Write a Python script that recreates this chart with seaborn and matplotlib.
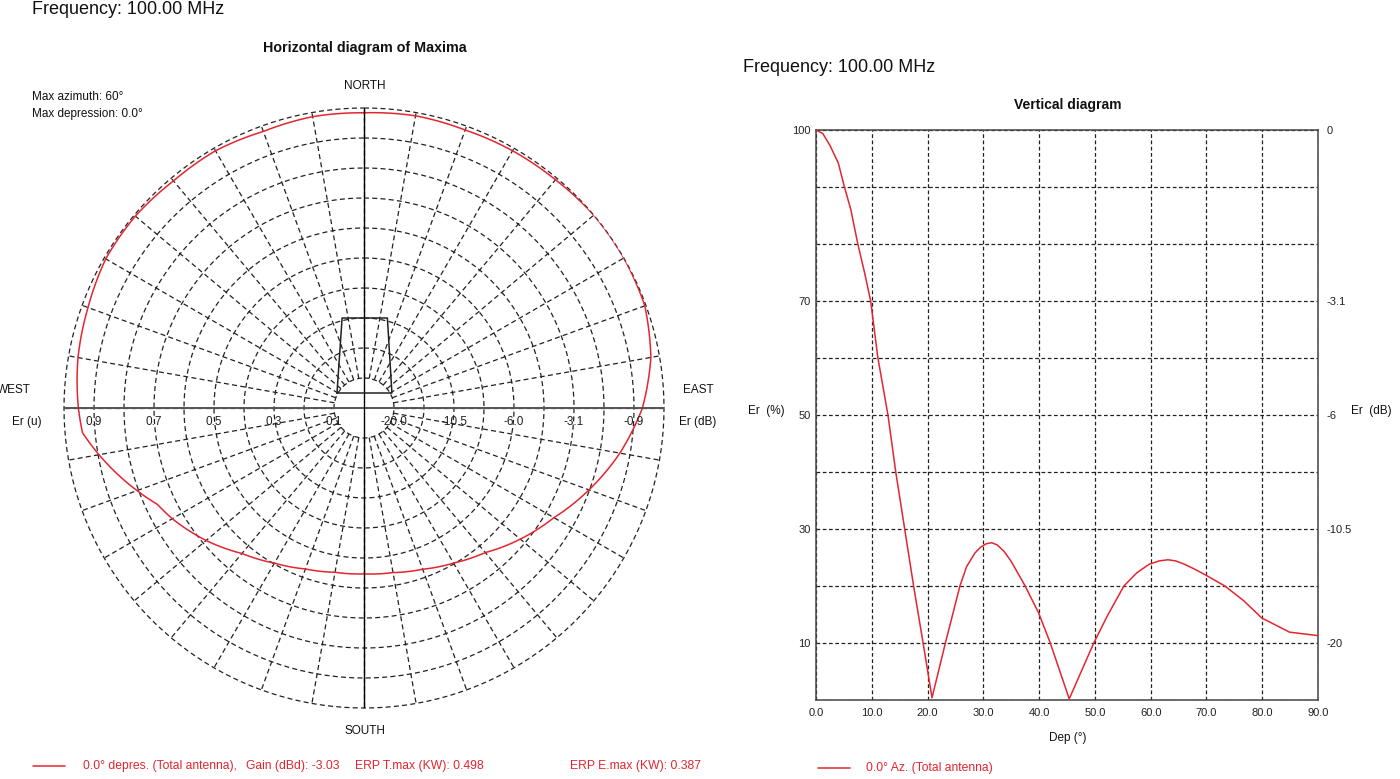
import numpy as np
import matplotlib
matplotlib.use("Agg")
import matplotlib.pyplot as plt
from matplotlib.lines import Line2D
import seaborn as sns

# horizontal diagram: relative field (0..1) read every 10 deg of azimuth
azimuth_deg = [0, 10, 20, 30, 40, 50, 60, 70, 80, 90, 100, 110, 120, 130, 140, 150, 160, 170,
               180, 190, 200, 210, 220, 230, 240, 245, 250, 260, 265, 270, 280, 290, 300, 310,
               320, 330, 340, 350, 360]
h_field = [0.984, 0.989, 0.986, 0.990, 0.993, 1.000, 1.000, 0.996, 0.971, 0.928, 0.866, 0.798,
           0.731, 0.680, 0.629, 0.597, 0.572, 0.557, 0.553, 0.556, 0.571, 0.597, 0.633, 0.687,
           0.738, 0.760, 0.805, 0.897, 0.942, 0.952, 0.968, 0.979, 0.994, 0.995, 0.988, 0.990,
           0.981, 0.986, 0.984]

# vertical diagram: Er (%) vs depression angle
depression_deg = [0.0, 1.2, 2.5, 4.0, 5.1, 6.25, 7.5, 8.7, 9.8, 11.1, 12.9, 14.3, 15.9, 17.5,
                  19.2, 20.8, 23.2, 25.8, 27.0, 28.5, 29.5, 30.5, 31.5, 32.5, 33.7, 35.0,
                  37.5, 39.9, 42.0, 45.4, 49.8, 52.2, 55.2, 57.5, 59.7, 61.5, 63.1, 64.5,
                  66.1, 68.0, 69.9, 73.3, 76.7, 79.9, 84.9, 90.0]
v_field_pct = [100.0, 99.4, 97.3, 94.2, 90.0, 86.0, 80.0, 75.0, 70.0, 60.0, 50.0, 40.0, 30.0,
               20.0, 10.0, 0.4, 10.0, 20.0, 23.4, 25.8, 26.8, 27.4, 27.6, 27.2, 26.1, 24.3,
               20.0, 15.3, 10.0, 0.2, 10.0, 14.7, 20.0, 22.3, 23.8, 24.4, 24.6, 24.4,
               23.8, 22.9, 21.9, 20.0, 17.4, 14.4, 11.9, 11.3]

# grid / label definitions
ring_values = [0.1, 0.2, 0.3, 0.4, 0.5, 0.6, 0.7, 0.8, 0.9, 1.0]
spoke_deg = list(range(0, 360, 10))
lin_label_rings = [0.9, 0.7, 0.5, 0.3, 0.1]
lin_labels = ["0.9", "0.7", "0.5", "0.3", "0.1"]
db_label_rings = [0.1, 0.3, 0.5, 0.7, 0.9]
db_labels = ["-20.0", "-10.5", "-6.0", "-3.1", "-0.9"]

# antenna mast sketch in the middle of the horizontal diagram
tower_x = [-0.090, -0.073, 0.078, 0.093, -0.090]
tower_y = [0.050, 0.300, 0.300, 0.050, 0.050]

v_grid = list(range(0, 101, 10))
v_left_ticks = [100, 70, 50, 30, 10]
v_right_labels = ["0", "-3.1", "-6", "-10.5", "-20"]
dep_ticks = list(range(0, 91, 10))

RED = "#e3262f"
W, H = 1400, 779

sns.set_theme(style="white")
plt.rcParams["font.family"] = ["Liberation Sans", "DejaVu Sans"]


def fx(px):
    return px / W


def fy(py):
    return 1 - py / H


fig = plt.figure(figsize=(14, 7.79), dpi=100)
fig.patch.set_facecolor("white")

# ---------------- horizontal diagram (polar) ----------------
rect = [fx(64), fy(708), 600 / W, 600 / H]
pax = fig.add_axes(rect, projection="polar")
pax.set_theta_zero_location("N")
pax.set_theta_direction(-1)
pax.grid(False)
pax.set_xticklabels([])
pax.set_yticklabels([])
pax.spines["polar"].set_visible(False)
pax.patch.set_alpha(0)

circle_t = np.linspace(0, 2 * np.pi, 361)
dash = dict(color="#222222", lw=0.9, dashes=(4, 2.6), clip_on=False)
for r in ring_values:
    pax.plot(circle_t, np.full_like(circle_t, r), **dash)
for a in spoke_deg:
    pax.plot([np.deg2rad(a)] * 2, [ring_values[0], ring_values[-1]], **dash)

sns.lineplot(x=np.deg2rad(azimuth_deg), y=h_field, ax=pax, sort=False, estimator=None,
             color=RED, linewidth=1.1, zorder=5)
# let the polar transform draw each segment in (theta, r) space instead of as a chord
pattern_line = pax.lines[-1]
pattern_line.get_path()._interpolation_steps = 40
pax.set_ylim(0, 1.0)
pax.set_xlabel("")
pax.set_ylabel("")

ov = fig.add_axes(rect)
ov.set_xlim(-1, 1)
ov.set_ylim(-1, 1)
ov.axis("off")
ov.plot([-1, 1], [0, 0], color="#555555", lw=1.4)
ov.plot([0, 0], [-1, 1], color="black", lw=1.0)
ov.plot(tower_x, tower_y, color="#222222", lw=1.1)

for r, lab in zip(lin_label_rings, lin_labels):
    ov.text(-r, -0.047, lab, ha="center", va="center", fontsize=8.5, color="#222222")
for r, lab in zip(db_label_rings, db_labels):
    ov.text(r, -0.047, lab, ha="center", va="center", fontsize=8.5, color="#222222")

small = dict(fontsize=8.5, color="#111111")
fig.text(fx(365), fy(86), "NORTH", ha="center", va="center", **small)
fig.text(fx(365), fy(731), "SOUTH", ha="center", va="center", **small)
fig.text(fx(31), fy(390), "WEST", ha="right", va="center", **small)
fig.text(fx(27), fy(422), "Er (u)", ha="center", va="center", **small)
fig.text(fx(698), fy(390), "EAST", ha="center", va="center", **small)
fig.text(fx(698), fy(422), "Er (dB)", ha="center", va="center", **small)
fig.text(fx(32), fy(97), "Max azimuth: 60°", ha="left", va="center", **small)
fig.text(fx(32), fy(114), "Max depression: 0.0°", ha="left", va="center", **small)

fig.text(fx(32), fy(10), "Frequency: 100.00 MHz", ha="left", va="center", fontsize=13,
         color="#111111")
fig.text(fx(365), fy(48), "Horizontal diagram of Maxima", ha="center", va="center",
         fontsize=10.3, fontweight="bold", color="#111111")

# ---------------- vertical diagram ----------------
vax = fig.add_axes([fx(816), fy(700), 502 / W, 570 / H])
sns.lineplot(x=depression_deg, y=v_field_pct, ax=vax, sort=False, estimator=None,
             color=RED, linewidth=1.1, zorder=5)
vax.set_xlim(0, 90)
vax.set_ylim(0, 100)
vax.set_xticks(dep_ticks)
vax.set_xticklabels([f"{d:.1f}" for d in dep_ticks])
vax.set_yticks(v_grid)
vax.set_yticklabels([str(v) if v in v_left_ticks else "" for v in v_grid])
vax.grid(True, color="#222222", lw=0.9, linestyle=(0, (3, 2)))
vax.set_axisbelow(True)
vax.tick_params(axis="both", length=0, labelsize=8, colors="#222222")
vax.tick_params(axis="x", pad=6)
vax.tick_params(axis="y", pad=4)
vax.set_xlabel("")
vax.set_ylabel("")
for s in vax.spines.values():
    s.set_color("#444444")
    s.set_linewidth(1.1)

tw = vax.twinx()
tw.set_ylim(0, 100)
tw.set_yticks(v_left_ticks)
tw.set_yticklabels(v_right_labels)
tw.tick_params(axis="y", length=0, labelsize=8, colors="#222222", pad=6)
for s in tw.spines.values():
    s.set_visible(False)
tw.grid(False)

fig.text(fx(743), fy(67), "Frequency: 100.00 MHz", ha="left", va="center", fontsize=13,
         color="#111111")
fig.text(fx(1068), fy(105), "Vertical diagram", ha="center", va="center",
         fontsize=10, fontweight="bold", color="#111111")
fig.text(fx(766), fy(411), "Er  (%)", ha="center", va="center", **small)
fig.text(fx(1371), fy(411), "Er  (dB)", ha="center", va="center", **small)
fig.text(fx(1068), fy(738), "Dep (°)", ha="center", va="center", **small)

# ---------------- bottom legend ----------------
leg = dict(fontsize=8.7, color=RED, ha="left", va="center")
fig.add_artist(Line2D([fx(33), fx(65)], [fy(766)] * 2, color=RED, lw=1.1))
fig.text(fx(83), fy(766), "0.0° depres. (Total antenna),", **leg)
fig.text(fx(246), fy(766), "Gain (dBd): -3.03", **leg)
fig.text(fx(355), fy(766), "ERP T.max (KW): 0.498", **leg)
fig.text(fx(570), fy(766), "ERP E.max (KW): 0.387", **leg)
fig.add_artist(Line2D([fx(818), fx(850)], [fy(768)] * 2, color=RED, lw=1.1))
fig.text(fx(866), fy(768), "0.0° Az. (Total antenna)", **leg)

fig.savefig("out.png", dpi=100, facecolor="white")
